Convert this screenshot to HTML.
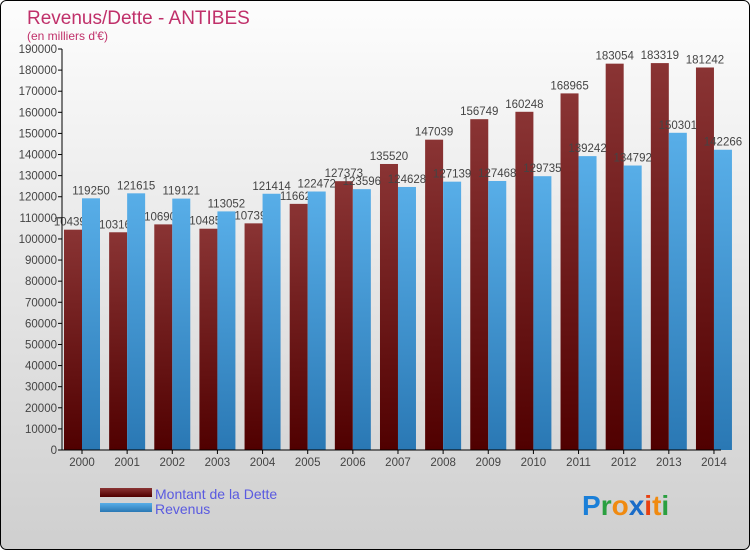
<!DOCTYPE html>
<html><head><meta charset="utf-8"><style>
body{margin:0}
svg{display:block;font-family:"Liberation Sans",sans-serif}
</style></head><body>
<svg id="c" width="750" height="550">
<defs>
<linearGradient id="bg" x1="0" y1="0" x2="0" y2="1"><stop offset="0" stop-color="#fdfdfd"/><stop offset="1" stop-color="#cfcfcf"/></linearGradient>
<linearGradient id="gd" x1="0" y1="0" x2="0" y2="1"><stop offset="0" stop-color="#8a3434"/><stop offset="1" stop-color="#500000"/></linearGradient>
<linearGradient id="gr" x1="0" y1="0" x2="0" y2="1"><stop offset="0" stop-color="#58aee8"/><stop offset="1" stop-color="#2a78b4"/></linearGradient>
</defs>
<rect x="0.5" y="0.5" width="749" height="549" rx="6" fill="url(#bg)" stroke="#000"/>
<text x="27" y="24" font-size="19" fill="#c0306a">Revenus/Dette - ANTIBES</text>
<text x="27" y="40" font-size="12" fill="#c0306a">(en milliers d'€)</text>
<g id="plot"></g>
<rect x="100" y="488" width="52" height="9" fill="url(#gd)"/>
<rect x="100" y="503" width="52" height="9" fill="url(#gr)"/>
<text x="155" y="499" font-size="14" fill="#5a5ae0">Montant de la Dette</text>
<text x="155" y="514" font-size="14" fill="#5a5ae0">Revenus</text>
<text x="582" y="515" font-size="28" font-weight="bold"><tspan fill="#1a7fd8">P</tspan><tspan fill="#2aa040">r</tspan><tspan fill="#f08a10">o</tspan><tspan fill="#1a6cc8">x</tspan><tspan fill="#e84010">i</tspan><tspan fill="#f08a10">t</tspan><tspan fill="#2aa040">i</tspan></text>
</svg>
<script>
const years=["2000","2001","2002","2003","2004","2005","2006","2007","2008","2009","2010","2011","2012","2013","2014"];
const dette=[104390,103160,106900,104850,107390,116620,127373,135520,147039,156749,160248,168965,183054,183319,181242];
const revenus=[119250,121615,119121,113052,121414,122472,123596,124628,127139,127468,129735,139242,134792,150301,142266];
const ticks=[0,10000,20000,30000,40000,50000,60000,70000,80000,90000,100000,110000,120000,130000,140000,150000,160000,170000,180000,190000];
const NS="http://www.w3.org/2000/svg",g=document.getElementById('plot');
const y=v=>450-v*401/190000, x0=i=>62+2+i*45.14;
function mk(t,a){const e=document.createElementNS(NS,t);for(const k in a)e.setAttribute(k,a[k]);g.appendChild(e);return e;}
ticks.forEach(t=>{
 const l=mk('line',{x1:58,x2:62,y1:y(t),y2:y(t),stroke:'#000'});
 
 
 const tx=mk('text',{x:57,y:y(t)+4,'font-size':11.5,fill:'#444','text-anchor':'end'});tx.textContent=t;
 
 
});
years.forEach((yr,i)=>{
 const xd=x0(i);
 const b=mk('rect',{x:xd,y:y(dette[i]),width:18,height:450-y(dette[i]),fill:'url(#gd)'});
 
 
 const t=mk('text',{x:xd+9,y:y(dette[i])-4,'font-size':11.5,fill:'#444','text-anchor':'middle'});t.textContent=dette[i];
 
 
});
years.forEach((yr,i)=>{
 const xr=x0(i)+18;
 const b=mk('rect',{x:xr,y:y(revenus[i]),width:18,height:450-y(revenus[i]),fill:'url(#gr)'});
 
 
 const t=mk('text',{x:xr+9,y:y(revenus[i])-4,'font-size':11.5,fill:'#444','text-anchor':'middle'});t.textContent=revenus[i];
 
 
 const xl=mk('text',{x:x0(i)+18,y:466,'font-size':11.5,fill:'#444','text-anchor':'middle'});xl.textContent=yr;
 
 
 const tk=mk('line',{x1:x0(i)+18,x2:x0(i)+18,y1:450,y2:454,stroke:'#000'});
 
 
});
const ya=mk('line',{x1:62,x2:62,y1:49,y2:450,stroke:'#000'});


const xa=mk('line',{x1:62,x2:721,y1:450,y2:450,stroke:'#000'});


</script>
</body></html>
